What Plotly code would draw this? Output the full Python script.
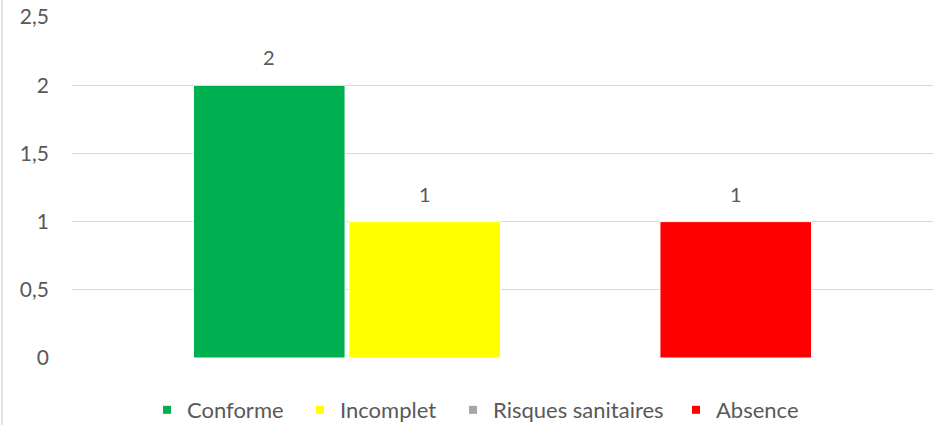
import plotly.graph_objects as go

# Data
categories = [""]
series_names = ["Conforme", "Incomplet", "Risques sanitaires", "Absence"]
series_values = [[2], [1], [0], [1]]
series_colors = ["#00b050", "#ffff00", "#a5a5a5", "#ff0000"]
tick_vals = [0, 0.5, 1, 1.5, 2, 2.5]
tick_text = ["0", "0,5", "1", "1,5", "2", "2,5"]

FONT = "Lato"
TEXT_COLOR = "#595959"
W, H = 939, 425

# left edge (px) of each legend entry's text
legend_text_x = [189, 342, 495, 718]

fig = go.Figure()
for i, (name, vals, color) in enumerate(zip(series_names, series_values, series_colors)):
    lg = "legend" if i == 0 else f"legend{i + 1}"
    fig.add_trace(go.Bar(
        x=categories,
        y=vals,
        name=name,
        marker=dict(color=color, line=dict(color="white", width=1)),
        offsetgroup=name,
        legendgroup=name,
        showlegend=False,
        hoverinfo="name+y",
    ))
    # small square legend key for the series
    fig.add_trace(go.Scatter(
        x=[None], y=[None],
        mode="markers",
        name=name,
        legendgroup=name,
        legend=lg,
        marker=dict(symbol="square", size=8, color=color),
        showlegend=True,
        hoverinfo="skip",
    ))

# Value labels above each non-zero bar, placed at the bar's own value
n = len(series_names)
annotations = []
for i, (name, vals) in enumerate(zip(series_names, series_values)):
    for v in vals:
        if not v:
            continue
        annotations.append(dict(
            x=0, y=v, xref="x", yref="y",
            text=str(v), showarrow=False,
            yanchor="bottom", yshift=14,
            xshift=(i - (n - 1) / 2) * 155.5,
            font=dict(family=FONT, size=20, color=TEXT_COLOR),
        ))

legend_base = dict(
    orientation="h",
    xanchor="left",
    xref="container",
    y=(H - 410) / H,
    yanchor="middle",
    yref="container",
    font=dict(family=FONT, size=22, color=TEXT_COLOR),
    itemwidth=30,
    bgcolor="rgba(0,0,0,0)",
    borderwidth=0,
)
legends = {}
for i, tx in enumerate(legend_text_x):
    key = "legend" if i == 0 else f"legend{i + 1}"
    legends[key] = dict(legend_base, x=(tx - 42) / W)

fig.update_layout(
    width=W,
    height=H,
    margin=dict(l=72, r=6, t=17, b=67, autoexpand=False),
    paper_bgcolor="white",
    plot_bgcolor="white",
    barmode="group",
    bargap=0.2776,
    bargroupgap=0.025,
    font=dict(family=FONT, size=21, color=TEXT_COLOR),
    annotations=annotations,
    xaxis=dict(showticklabels=False, showgrid=False, zeroline=False, showline=False),
    yaxis=dict(
        range=[0, 2.5],
        tickvals=tick_vals,
        ticktext=tick_text,
        showgrid=True,
        gridcolor="#d9d9d9",
        gridwidth=1.3,
        zeroline=False,
        showline=False,
        ticks="",
        ticklabelstandoff=22,
        tickfont=dict(family=FONT, size=21, color=TEXT_COLOR),
    ),
    shapes=[dict(
        type="line", xref="paper", yref="paper",
        x0=-0.0813, x1=-0.0813, y0=-0.5, y1=1.2,
        line=dict(color="#d9d9d9", width=1.5),
    )],
    **legends,
)

fig.write_html("out.html")
